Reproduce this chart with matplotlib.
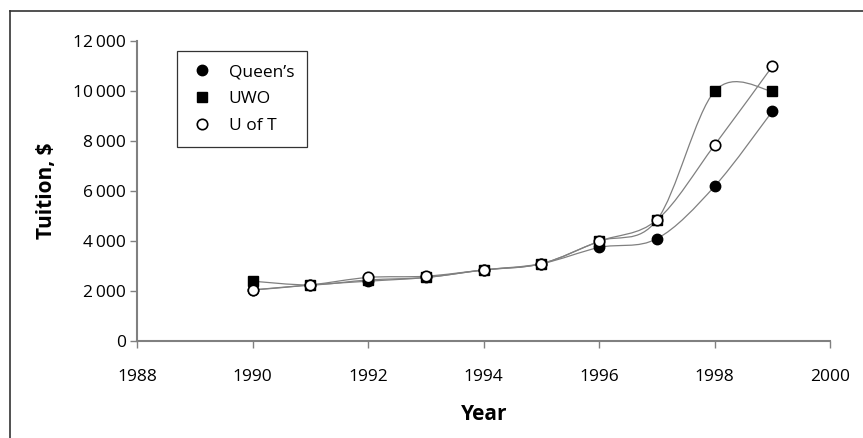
import numpy as np
import matplotlib
matplotlib.use("Agg")
import matplotlib.pyplot as plt
from matplotlib.path import Path
from matplotlib.patches import PathPatch
from matplotlib.lines import Line2D

plt.rcParams['font.family'] = ['Open Sans', 'DejaVu Sans']

years = [1990, 1991, 1992, 1993, 1994, 1995, 1996, 1997, 1998, 1999]
queens = [2050, 2250, 2400, 2550, 2850, 3100, 3750, 4100, 6200, 9200]
uwo = [2400, 2250, 2450, 2550, 2850, 3100, 4000, 4850, 10000, 10000]
uoft = [2050, 2250, 2550, 2600, 2850, 3100, 4000, 4850, 7850, 11000]
yticks = [0, 2000, 4000, 6000, 8000, 10000, 12000]
xticks = [1988, 1990, 1992, 1994, 1996, 1998, 2000]


def smooth_path(x, y):
    # excel style smoothed line: cubic bezier, catmull-rom control points
    p = np.column_stack([x, y]).astype(float)
    verts = [p[0]]
    codes = [Path.MOVETO]
    n = len(p)
    for i in range(n - 1):
        p0 = p[i - 1] if i > 0 else p[i]
        p3 = p[i + 2] if i + 2 < n else p[i + 1]
        c1 = p[i] + (p[i + 1] - p0) / 6
        c2 = p[i + 1] - (p3 - p[i]) / 6
        verts += [c1, c2, p[i + 1]]
        codes += [Path.CURVE4] * 3
    return Path(verts, codes)


fig = plt.figure(figsize=(8.63, 4.38), dpi=100)
ax = fig.add_axes([0.159, 0.221, 0.803, 0.685])

for ys in (queens, uwo, uoft):
    ax.add_patch(PathPatch(smooth_path(years, ys), fill=False,
                           edgecolor='#808080', lw=0.9, zorder=2))

ax.plot(years, queens, 'o', ms=7.5, mfc='black', mec='black', zorder=3, label='Queen\u2019s')
ax.plot(years, uwo, 's', ms=6.5, mfc='black', mec='black', zorder=4, label='UWO')
ax.plot(years, uoft, 'o', ms=7.5, mfc='white', mec='black', mew=1.2, zorder=5, label='U of T')

ax.set_xlim(1988, 2000)
ax.set_ylim(0, 12000)
ax.set_xticks(xticks)
ax.set_yticks(yticks)
ax.set_yticklabels([f"{v:,}".replace(',', '\u2009') for v in yticks])
ax.tick_params(axis='both', direction='out', length=5, width=1, color='#808080',
               labelsize=12.5, pad=3)
ax.tick_params(axis='x', pad=15)
for s in ('top', 'right'):
    ax.spines[s].set_visible(False)
for s in ('left', 'bottom'):
    ax.spines[s].set_color('#808080')
    ax.spines[s].set_linewidth(1.5)

ax.set_xlabel('Year', fontsize=15, fontweight='bold', labelpad=14)
ax.set_ylabel('Tuition, $', fontsize=15, fontweight='bold', labelpad=12)

leg = ax.legend(loc='upper left', bbox_to_anchor=(0.058, 0.967), fontsize=12.5,
                frameon=True, fancybox=False, edgecolor='black',
                handletextpad=0.9, borderpad=0.75, labelspacing=0.62,
                handlelength=1.3, borderaxespad=0)
leg.get_frame().set_linewidth(0.9)

# outer chart border (left and top show in the crop)
fig.add_artist(Line2D([9.5 / 863, 9.5 / 863], [0, 1 - 10.5 / 438],
                      color='#333333', lw=1.2, transform=fig.transFigure))
fig.add_artist(Line2D([9.5 / 863, 1], [1 - 10.5 / 438, 1 - 10.5 / 438],
                      color='#333333', lw=1.2, transform=fig.transFigure))

fig.savefig('out.png', dpi=100)
